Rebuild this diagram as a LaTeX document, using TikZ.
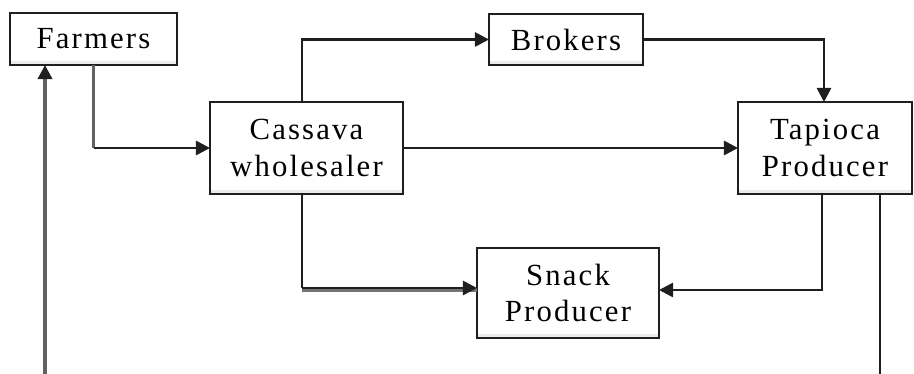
\documentclass[tikz,border=0pt]{standalone}
\usepackage{fontspec}
\setmainfont{Liberation Serif}[LetterSpace=7]
\usetikzlibrary{arrows.meta}
\begin{document}
\begin{tikzpicture}[x=0.02cm,y=-0.02cm,
  box/.style={draw=black!88,line width=1.5pt,fill=white,inner sep=0pt,outer sep=0pt,
    align=center,font=\fontsize{17.5}{20.6}\selectfont,
    path picture={\fill[black!8] (path picture bounding box.south west)
      rectangle ([yshift=2.2pt]path picture bounding box.south east);}},
  tip/.style={-{Triangle[length=8pt,width=8pt]}},
  link/.style={draw=black!88,line width=1.5pt,tip},
  plain/.style={draw=black!88,line width=1.5pt},
  grayline/.style={draw=black!62,line width=1.9pt}]
\useasboundingbox (0,0) rectangle (914,374);

% chain members
\node[box,minimum width=3.34cm,minimum height=1.04cm] (farm) at (93.5,39) {Farmers};
\node[box,minimum width=3.86cm,minimum height=1.84cm] (cas)  at (306.5,148) {Cassava\\wholesaler};
\node[box,minimum width=3.08cm,minimum height=1.02cm] (brk)  at (566,39.5) {Brokers};
\node[box,minimum width=3.48cm,minimum height=1.84cm] (tap)  at (825,148) {Tapioca\\Producer};
\node[box,minimum width=3.64cm,minimum height=1.80cm] (snk)  at (568,293) {Snack\\Producer};

% loose ends at the lower edge
\coordinate (back) at (45,374);
\coordinate (out)  at (880,374);
\coordinate (bend) at (302,288);

% farmers to wholesaler
\draw[grayline] (farm.south) -- (farm.south |- cas.west);
\draw[link] (farm.south |- cas.west) -- (cas.west);

% return line up to the farmers
\draw[grayline,-{Triangle[length=8pt,width=8pt,color=black!88]}]
  (back) -- (back |- farm.south);

% wholesaler to brokers
\draw[link] (bend |- cas.north) |- (brk.west);

% wholesaler to tapioca producer
\draw[link] (cas.east) -- (tap.west);

% brokers to tapioca producer
\draw[link] (brk.east) -| ([xshift=-0.02cm]tap.north);

% wholesaler to snack producer, with its grey shadow band
\draw[draw=black!55,line width=2.4pt] ([yshift=-0.04cm]bend) -- ([yshift=-0.04cm]bend -| snk.west);
\draw[plain] (bend |- cas.south) -- (bend);
\draw[link] (bend) -- (bend -| snk.west);

% tapioca producer to snack producer
\draw[link] ([xshift=-0.06cm]tap.south) |- ([yshift=0.06cm]snk.east);

% tapioca producer outflow
\draw[plain] (tap.south -| out) -- (out);
\end{tikzpicture}
\end{document}
